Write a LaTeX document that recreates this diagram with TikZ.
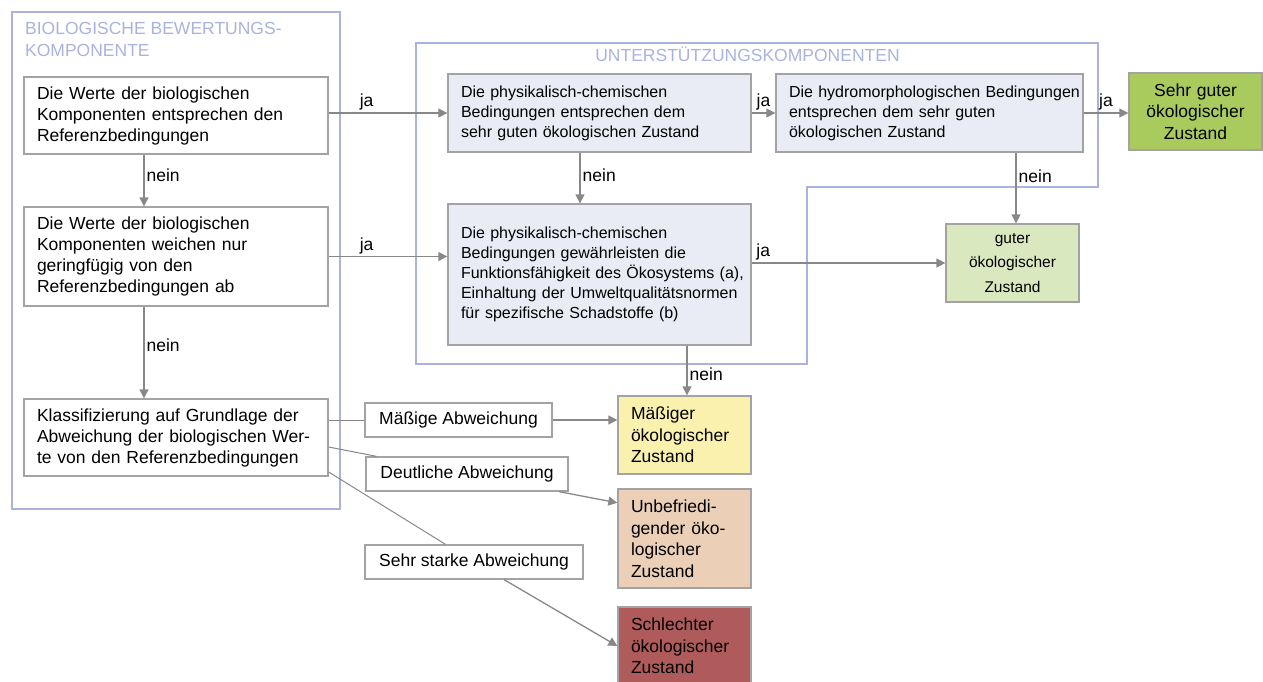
\documentclass[tikz,border=0pt]{standalone}
\usepackage{fontspec}
\setmainfont{Liberation Sans}
\usetikzlibrary{arrows.meta,calc}

\definecolor{framec}{HTML}{A9B3DD}
\definecolor{boxline}{HTML}{A3A3A3}
\definecolor{arrowc}{HTML}{888888}
\definecolor{pcfill}{HTML}{E9ECF4}
\definecolor{vgood}{HTML}{A9CB5D}
\definecolor{good}{HTML}{DAE8BF}
\definecolor{moder}{HTML}{FBF1AE}
\definecolor{poor}{HTML}{EBCFB6}
\definecolor{bad}{HTML}{B05B5B}

\tikzset{
  base/.style={draw=boxline, line width=1.3pt, inner xsep=13pt, inner ysep=0pt,
    font=\fontsize{17.5}{21}\selectfont},
  wbox/.style={base, fill=white, align=left},
  pcbox/.style={base, fill=pcfill, align=left, font=\fontsize{16}{20}\selectfont},
  state/.style={base, align=left, font=\fontsize{17.5}{21.5}\selectfont},
  devbox/.style={base, fill=white, align=center, inner xsep=0pt},
  title/.style={text=framec, inner sep=0pt, align=left, font=\fontsize{17.5}{21.5}\selectfont},
  frame/.style={draw=framec, line width=1.3pt},
  lab/.style={inner sep=2pt, font=\fontsize{17.5}{21}\selectfont},
  arr/.style={draw=arrowc, line width=1.3pt, -{Triangle[length=9pt,width=9pt]}},
  thin/.style={draw=arrowc, line width=1pt},
}

\begin{document}
\begin{tikzpicture}[x=1pt,y=-1pt]
\useasboundingbox (0,0) rectangle (1263,682);

% component frames
\draw[frame] (12,12) rectangle (340,509);
\draw[frame] (416,43) -- (1098,43) -- (1098,187) -- (807,187) -- (807,364) -- (416,364) -- cycle;
\node[title, anchor=north west] (biotitle) at (25,22.5) {BIOLOGISCHE BEWERTUNGS-\\KOMPONENTE};
\node[title, anchor=base] (suptitle) at (747.5,62) {UNTERSTÜTZUNGSKOMPONENTEN};

% biological assessment
\node[wbox, minimum height=77pt, text width=278pt] (b1) at (176,115.5)
  {Die Werte der biologischen\\Komponenten entsprechen den\\Referenzbedingungen};
\node[wbox, minimum height=99pt, text width=278pt] (b2) at (176,256.5)
  {Die Werte der biologischen\\Komponenten weichen nur\\geringfügig von den\\Referenzbedingungen ab};
\node[wbox, minimum height=77pt, text width=278pt] (b3) at (176,437.5)
  {Klassifizierung auf Grundlage der\\\mbox{Abweichung der biologischen Wer-}\\te von den Referenzbedingungen};

% supporting components
\node[pcbox, minimum height=78pt, text width=277pt] (pc1) at (599.5,113)
  {Die physikalisch-chemischen\\Bedingungen entsprechen dem\\sehr guten ökologischen Zustand};
\node[pcbox, minimum height=78pt, text width=281pt] (hydro) at (929.5,113)
  {\mbox{Die hydromorphologischen Bedingungen}\\entsprechen dem sehr guten\\ökologischen Zustand};
\node[pcbox, minimum height=141pt, text width=277pt] (pc2) at (599.5,274.5)
  {Die physikalisch-chemischen\\Bedingungen gewährleisten die\\\mbox{Funktionsfähigkeit des Ökosystems (a),}\\\mbox{Einhaltung der Umweltqualitätsnormen}\\für spezifische Schadstoffe (b)};

% resulting status classes
\node[state, fill=vgood, align=center, minimum height=77pt, text width=107pt] (sg) at (1195.5,111.5)
  {Sehr guter\\ökologischer\\Zustand};
\node[state, fill=good, align=center, minimum height=78pt, text width=107pt,
      font=\fontsize{15.5}{24.5}\selectfont] (guter) at (1012.5,263)
  {guter\\ökologischer\\Zustand};
\node[state, fill=moder, minimum height=78pt, text width=107pt] (maessig) at (684.5,435)
  {Mäßiger\\ökologischer\\Zustand};
\node[state, fill=poor, minimum height=99pt, text width=107pt] (unbef) at (684.5,538.5)
  {Unbefriedi-\\gender öko-\\logischer\\Zustand};
\node[state, fill=bad, minimum height=78pt, text width=107pt] (schl) at (684.5,646)
  {Schlechter\\ökologischer\\Zustand};

% deviation classes
\node[devbox, minimum width=187pt, minimum height=34pt] (mab) at (458.5,420) {Mäßige Abweichung};
\node[devbox, minimum width=202pt, minimum height=34pt] (dab) at (467,474) {Deutliche Abweichung};
\node[devbox, minimum width=218pt, minimum height=34pt] (sab) at (474,562) {Sehr starke Abweichung};

% decision flow
\draw[arr] ([xshift=-32pt]b1.south) -- node[lab,right,pos=0.4]{nein} ([xshift=-32pt]b2.north);
\draw[arr] ([xshift=-32pt]b2.south) -- node[lab,right,pos=0.42]{nein} ([xshift=-32pt]b3.north);
\draw[arr] (b1.east |- pc1.west) -- node[lab,above,pos=0.32]{ja} (pc1.west);
\draw[arr] (b2.east) -- node[lab,above,pos=0.32]{ja} (b2.east -| pc2.west);
\draw[arr] (pc1.east) -- node[lab,above]{ja} (hydro.west);
\draw[arr] (hydro.east) -- node[lab,above]{ja} (hydro.east -| sg.west);
\draw[arr] ([xshift=-19.5pt]pc1.south) -- node[lab,right,pos=0.45]{nein} ([xshift=-19.5pt]pc2.north);
\draw[arr] ([xshift=3.5pt]guter.north |- hydro.south) -- node[lab,right,pos=0.33]{nein} ([xshift=3.5pt]guter.north);
\draw[arr] (guter.west -| pc2.east) -- node[lab,above,pos=0.06]{ja} (guter.west);
\draw[arr] ([xshift=2.5pt]maessig.north |- pc2.south) -- node[lab,right,pos=0.58]{nein} ([xshift=2.5pt]maessig.north);

% classification by deviation
\draw[thin] (b3.east |- mab.west) -- (mab.west);
\draw[arr] (mab.east) -- (mab.east -| maessig.west);
\draw[thin] ([yshift=-9.5pt]b3.east) -- (dab);
\draw[arr] (dab) -- (unbef.152);
\draw[thin] ([yshift=-34.5pt]b3.east) -- (sab);
\draw[arr] (sab) -- (schl.west);
\end{tikzpicture}
\end{document}
